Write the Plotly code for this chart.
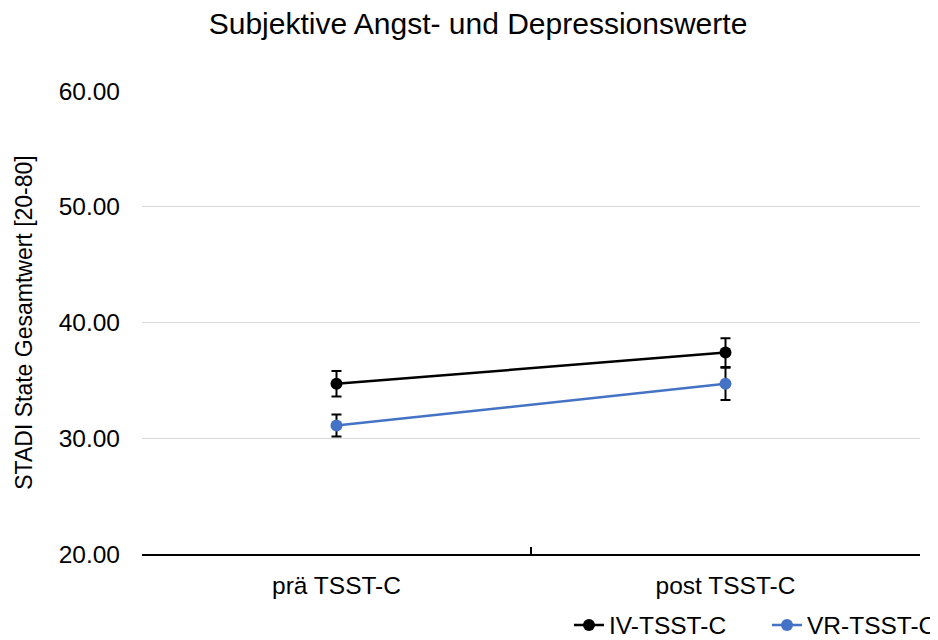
import plotly.graph_objects as go

categories = ["prä TSST-C", "post TSST-C"]
iv_values = [34.7, 37.4]
iv_err = [1.1, 1.25]
vr_values = [31.1, 34.7]
vr_err = [0.95, 1.4]
series_names = ["IV-TSST-C", "VR-TSST-C"]
y_ticks = [20, 30, 40, 50, 60]

font = "Liberation Sans, Arial, sans-serif"

fig = go.Figure()
fig.add_trace(go.Scatter(
    x=categories, y=iv_values, name=series_names[0], mode="lines+markers",
    line=dict(color="#000000", width=2.5), marker=dict(color="#000000", size=12),
    error_y=dict(type="data", array=iv_err, color="#000000", thickness=2, width=5),
))
fig.add_trace(go.Scatter(
    x=categories, y=vr_values, name=series_names[1], mode="lines+markers",
    line=dict(color="#4472C4", width=2.5), marker=dict(color="#4472C4", size=12),
    error_y=dict(type="data", array=vr_err, color="#000000", thickness=2, width=5),
))

fig.update_layout(
    width=938, height=640,
    margin=dict(l=134, r=26, t=83, b=94, autoexpand=False),
    paper_bgcolor="white", plot_bgcolor="white",
    font=dict(family=font, size=24, color="#000000"),
    title=dict(text="Subjektive Angst- und Depressionswerte", x=470/938, xanchor="center",
               xref="container", yref="container", y=1 - 15/640, yanchor="middle",
               font=dict(size=30, family=font, color="#000000")),
    showlegend=True,
    legend=dict(orientation="h", xref="container", yref="container",
                x=561/938, xanchor="left", y=1 - 617/640, yanchor="middle",
                font=dict(size=24.5, family=font), traceorder="normal",
                itemwidth=30, entrywidth=153, entrywidthmode="pixels",
                bgcolor="rgba(0,0,0,0)"),
    xaxis=dict(type="category", range=[-0.5, 1.5], showline=True, linecolor="#000000",
               linewidth=1.5, ticks="inside", tickson="boundaries", ticklen=7,
               tickcolor="#000000", tickwidth=1.5, showgrid=False,
               tickfont=dict(size=24.5), ticklabelstandoff=9, automargin=False),
    yaxis=dict(range=[20, 60], tickvals=y_ticks, tickformat=".2f", showgrid=True,
               gridcolor="#D9D9D9", gridwidth=1.2, zeroline=False, showline=False,
               ticks="", tickfont=dict(size=24.5), ticklabelstandoff=21, automargin=False,
               title=dict(text="STADI State Gesamtwert [20-80]", font=dict(size=23),
                          standoff=19)),
)

fig.write_html("out.html")
